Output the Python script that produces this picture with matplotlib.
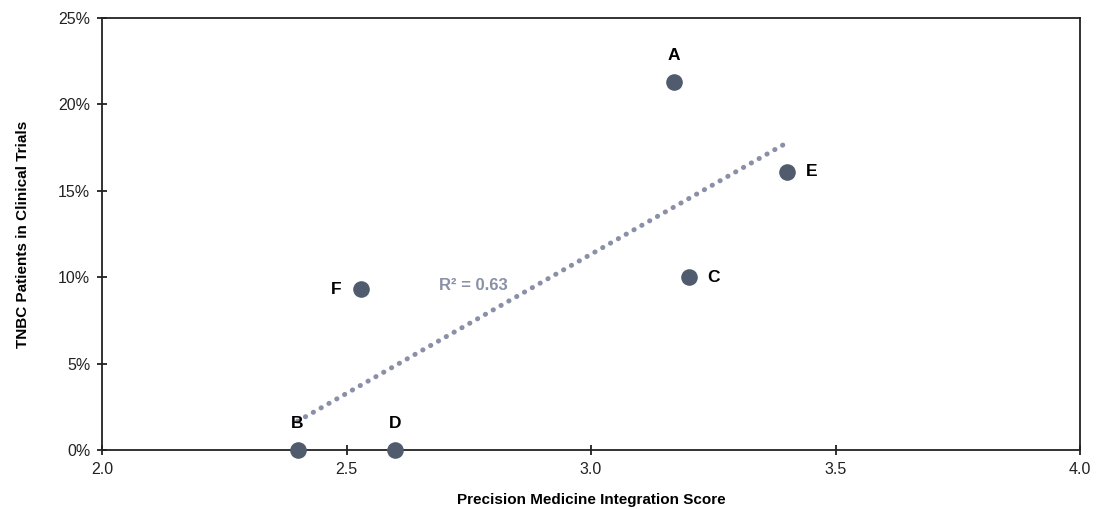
import matplotlib.pyplot as plt
import numpy as np
from matplotlib.ticker import PercentFormatter

plt.rcParams['font.family'] = ['Liberation Sans', 'DejaVu Sans']

labels = ['A', 'B', 'C', 'D', 'E', 'F']
score = [3.17, 2.40, 3.20, 2.60, 3.40, 2.53]
tnbc = [21.3, 0.0, 10.0, 0.0, 16.1, 9.3]
label_pos = ['above', 'above', 'right', 'above', 'right', 'left']

dot_color = '#515b6e'
trend_color = '#8990a8'

fig = plt.figure(figsize=(10.96, 5.09), dpi=100)
ax = fig.add_axes([102/1096, 1 - 450/509, (1080-102)/1096, (450-18)/509])

# linear trend line + R^2
x = np.array(score)
y = np.array(tnbc)
m, b = np.polyfit(x, y, 1)
r2 = np.corrcoef(x, y)[0, 1] ** 2
xs = np.array([x.min(), x.max()])
ax.plot(xs, m * xs + b, linestyle=(0, (0.05, 1.75)), color=trend_color, lw=3.6,
        dash_capstyle='round', zorder=2)
ax.text(2.76, 9.5, f'R² = {r2:.2f}', color=trend_color, fontsize=12,
        fontweight='bold', ha='center', va='center')

ax.scatter(score, tnbc, s=120, color=dot_color, zorder=3, clip_on=False)

for lab, xi, yi, pos in zip(labels, score, tnbc, label_pos):
    if pos == 'above':
        off = (0, 19)
    elif pos == 'right':
        off = (18, 0)
    else:
        off = (-18, 0)
    ax.annotate(lab, (xi, yi), xytext=off, textcoords='offset points',
                ha='center', va='center', fontsize=12.5, fontweight='bold')

ax.set_xlim(2.0, 4.0)
ax.set_ylim(0, 25)
ax.set_xticks([2.0, 2.5, 3.0, 3.5, 4.0])
ax.set_yticks([0, 5, 10, 15, 20, 25])
ax.yaxis.set_major_formatter(PercentFormatter(decimals=0))
ax.tick_params(direction='inout', length=7, width=1.3, labelsize=11.5,
               colors='#222222', pad=5)
for s in ax.spines.values():
    s.set_linewidth(1.3)
    s.set_color('#222222')

ax.set_xlabel('Precision Medicine Integration Score', fontsize=11,
              fontweight='bold', labelpad=12)
ax.set_ylabel('TNBC Patients in Clinical Trials', fontsize=11,
              fontweight='bold', labelpad=20)

fig.savefig('out.png', dpi=100)
